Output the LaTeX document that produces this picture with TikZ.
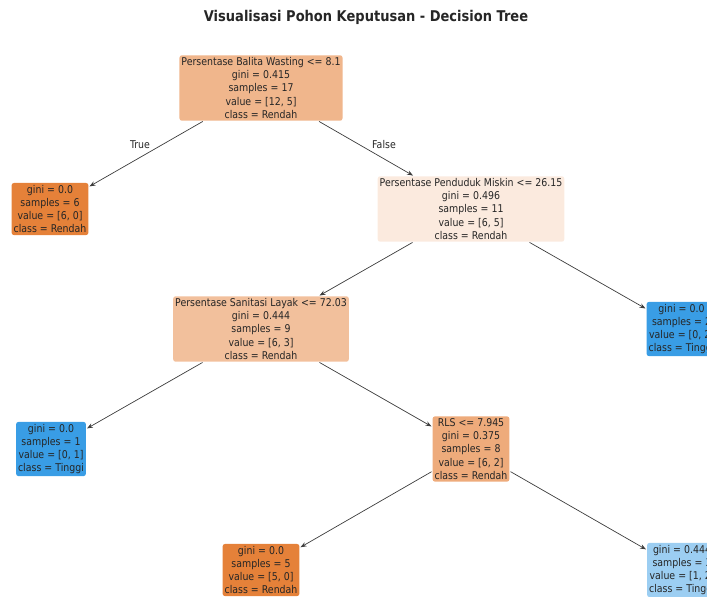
\documentclass[tikz,border=0pt]{standalone}
\usepackage{fontspec}
\setmainfont{DejaVu Sans}[FakeStretch=0.88]
\usetikzlibrary{arrows.meta}
\definecolor{rootcol}{HTML}{F0B68C}
\definecolor{misk}{HTML}{FBEADE}
\definecolor{sani}{HTML}{F2C09C}
\definecolor{rls}{HTML}{EEAB7B}
\definecolor{rendah}{HTML}{E58139}
\definecolor{tinggi}{HTML}{399DE5}
\definecolor{tinggilt}{HTML}{9CCEF2}
\definecolor{ink}{HTML}{262626}
\begin{document}
\begin{tikzpicture}[x=1pt, y=-1pt,
  tnode/.style={rounded corners=2.5pt, align=center, inner xsep=2pt, inner ysep=2pt,
    text=ink, font=\fontsize{10.7}{13.3}\selectfont},
  edge/.style={draw=ink!90, line width=0.7pt, -{Stealth[length=6pt,width=4.5pt]}, shorten >=1pt, shorten <=1pt},
  elabel/.style={text=ink, font=\fontsize{10.7}{12}\selectfont}]
\useasboundingbox (0,0) rectangle (707,597);
% title
\node[text=ink, font=\fontsize{14.8}{16}\bfseries] (title) at (366,17) {Visualisasi Pohon Keputusan - Decision Tree};
% tree
\node[tnode, fill=rootcol] (root) at (261,88) {Persentase Balita Wasting <= 8.1\\gini = 0.415\\samples = 17\\value = [12, 5]\\class = Rendah};
\node[tnode, fill=rendah] (leafa) at (50,209) {gini = 0.0\\samples = 6\\value = [6, 0]\\class = Rendah};
\node[tnode, fill=misk] (miskin) at (471,209) {Persentase Penduduk Miskin <= 26.15\\gini = 0.496\\samples = 11\\value = [6, 5]\\class = Rendah};
\node[tnode, fill=sani] (sanit) at (261,329) {Persentase Sanitasi Layak <= 72.03\\gini = 0.444\\samples = 9\\value = [6, 3]\\class = Rendah};
\node[tnode, fill=tinggi] (leafb) at (681.5,329) {gini = 0.0\\samples = 2\\value = [0, 2]\\class = Tinggi};
\node[tnode, fill=tinggi] (leafc) at (51,449) {gini = 0.0\\samples = 1\\value = [0, 1]\\class = Tinggi};
\node[tnode, fill=rls] (rls) at (471,449) {RLS <= 7.945\\gini = 0.375\\samples = 8\\value = [6, 2]\\class = Rendah};
\node[tnode, fill=rendah] (leafd) at (261,570) {gini = 0.0\\samples = 5\\value = [5, 0]\\class = Rendah};
\node[tnode, fill=tinggilt] (leafe) at (682,570) {gini = 0.444\\samples = 3\\value = [1, 2]\\class = Tinggi};
% edges
\draw[edge] (root) -- (leafa);
\draw[edge] (root) -- (miskin);
\draw[edge] (miskin) -- (sanit);
\draw[edge] (miskin) -- (leafb);
\draw[edge] (sanit) -- (leafc);
\draw[edge] (sanit) -- (rls);
\draw[edge] (rls) -- (leafd);
\draw[edge] (rls) -- (leafe);
\node[elabel] (true) at (140,145) {True};
\node[elabel] (false) at (384,145) {False};
\end{tikzpicture}
\end{document}
